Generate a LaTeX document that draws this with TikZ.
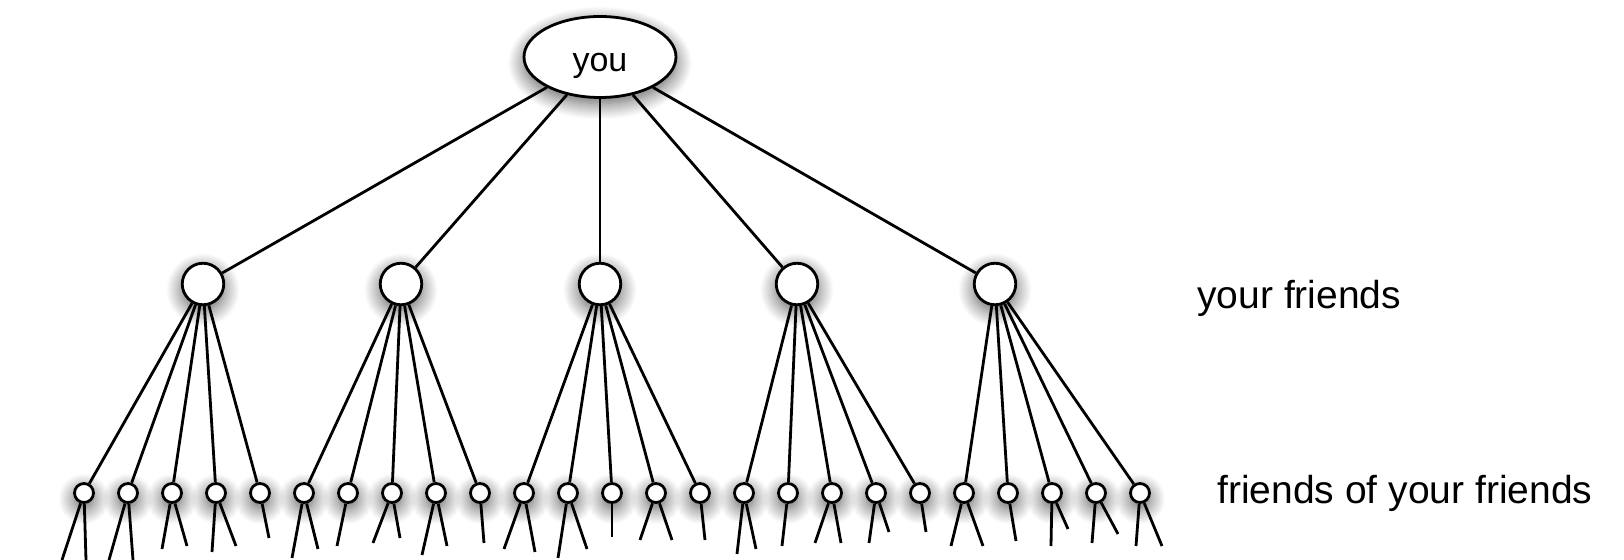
\documentclass[tikz,border=0pt]{standalone}
\usepackage{fontspec}
\setmainfont{Liberation Sans}
\usetikzlibrary{shapes.geometric,shadows.blur}

\tikzset{
  soft/.style={blur shadow={shadow xshift=0pt, shadow yshift=-3pt,%
      shadow blur radius=8pt, shadow blur steps=16, shadow opacity=65}},
  youbox/.style={ellipse, draw, fill=white, soft, inner sep=0pt,%
      minimum width=76pt, minimum height=40.5pt,%
      font=\fontsize{17pt}{20pt}\selectfont,%
      text height=18pt, text depth=3.5pt},
  friend/.style={circle, draw, fill=white, soft, inner sep=0pt,%
      minimum size=20.75pt},
  fof/.style={circle, draw, fill=white, soft, inner sep=0pt,%
      minimum size=9.5pt},
  lvl/.style={anchor=base west, inner sep=0pt,%
      font=\fontsize{19.5pt}{23pt}\selectfont}
}

\begin{document}
\begin{tikzpicture}[x=0.5pt, y=-0.5pt, line width=1.4pt]
    \pgfmathsetmacro{\fy}{284}
    \pgfmathsetmacro{\sy}{493}
    \pgfmathsetmacro{\sx}{84}
    \pgfmathsetmacro{\sdx}{44}
    \useasboundingbox (0, 0) rectangle (1624, 560);

    % the three levels
    \node[youbox] (you) at (600, 57) {you};
    \foreach \i/\x in {1/203, 2/401, 3/600, 4/797, 5/995}
        \node[friend] (f\i) at (\x, \fy) {};
    \foreach \k in {1,...,25}
        \node[fof] (s\k) at ({\sx + \sdx*(\k-1)}, \sy) {};

    % edges
    \foreach \i in {1,...,5}
        \draw (you) -- (f\i);
    \foreach \i in {1,...,5}
        \foreach \j in {1,...,5} {
            \pgfmathtruncatemacro{\k}{5*(\i-1) + \j}
            \draw (f\i) -- (s\k);
        }

    % loose ends below the last level
    \foreach \k/\ex/\ey [count=\n] in {%
        1/62/560, 1/86/560, 2/109/560, 2/133/560, 3/162/549, 3/187/546,%
        4/212/552, 4/236/546, 5/269/538, 6/292/558, 6/318/549, 7/337/546,%
        8/373/543, 8/400/538, 9/422/555, 9/447/546, 10/484/543,%
        11/504/549, 11/535/552, 12/558/558, 12/587/549, 13/612/537,%
        14/640/540, 14/672/540, 15/705/540, 16/737/554, 16/756/549,%
        17/782/546, 18/815/543, 18/841/543, 19/869/543, 19/889/532,%
        20/926/532, 21/951/546, 21/983/546, 22/1016/541, 23/1051/546,%
        23/1068/529, 24/1092/543, 24/1118/534, 25/1136/546, 25/1162/546} {
        \coordinate (t\n) at (\ex, \ey);
        \draw (s\k) -- (t\n);
    }

    \node[lvl] (lf) at (1196, 309) {your friends};
    \node[lvl] (lff) at (1216, 504) {friends of your friends};
\end{tikzpicture}
\end{document}
